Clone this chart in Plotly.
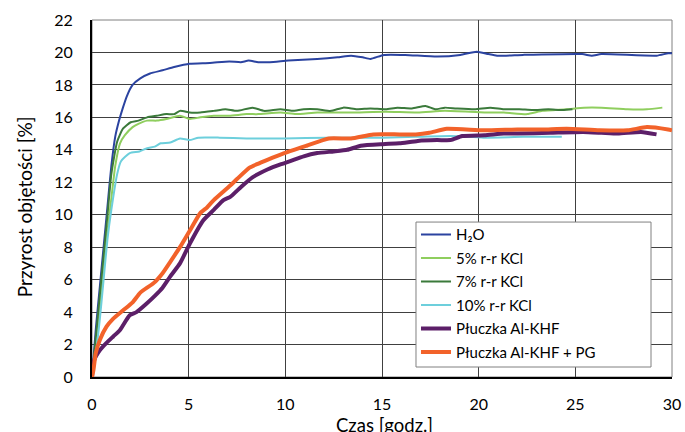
import plotly.graph_objects as go

# H2O
h2o_x = [0, 0.2, 0.4, 0.6, 0.8, 1.0, 1.2, 1.4, 1.6, 1.8, 2.1, 2.5, 3.0, 3.65, 4.25, 5.05, 6.1, 7.1, 7.7, 8.1, 8.6, 9.2, 10.15, 11.65, 12.7, 13.4, 14.0, 14.4, 15.1, 16.2, 17.85, 19.05, 19.9, 20.5, 20.95, 22.3, 25.35, 25.85, 26.35, 29.2, 29.8, 30]
h2o_y = [0, 3, 5.5, 8, 10.5, 13, 14.8, 15.8, 16.6, 17.3, 18, 18.4, 18.7, 18.9, 19.1, 19.3, 19.35, 19.45, 19.4, 19.5, 19.4, 19.4, 19.5, 19.6, 19.7, 19.8, 19.7, 19.6, 19.85, 19.85, 19.75, 19.85, 20.05, 19.9, 19.8, 19.85, 19.9, 19.8, 19.9, 19.8, 19.95, 19.95]

# 5% KCl
k5_x = [0, 0.2, 0.4, 0.6, 0.8, 1.0, 1.2, 1.45, 1.7, 2.1, 2.4, 2.85, 3.35, 3.85, 4.55, 5.05, 5.6, 6.3, 7.1, 8.0, 8.6, 9.75, 10.55, 11.65, 13.4, 15.2, 16.85, 18.25, 20.3, 21.3, 22.5, 23.3, 24.55, 25.45, 26.35, 27.7, 28.7, 29.5]
k5_y = [0, 2, 4, 6.5, 9, 11, 13, 14.4, 14.9, 15.4, 15.6, 15.8, 15.8, 15.9, 16.1, 15.9, 16.0, 16.1, 16.1, 16.2, 16.2, 16.3, 16.2, 16.3, 16.3, 16.35, 16.3, 16.4, 16.3, 16.3, 16.2, 16.4, 16.5, 16.6, 16.6, 16.5, 16.5, 16.6]

# 7% KCl
k7_x = [0, 0.2, 0.4, 0.6, 0.8, 1.0, 1.3, 1.6, 2.0, 2.4, 2.85, 3.35, 3.85, 4.25, 4.55, 5.05, 5.6, 6.3, 6.9, 7.5, 8.3, 8.9, 9.75, 10.35, 10.95, 11.65, 12.35, 13.0, 13.7, 14.4, 15.2, 15.8, 16.55, 17.25, 17.75, 18.25, 18.85, 19.8, 20.6, 21.3, 22.1, 22.8, 23.6, 24.35, 24.85]
k7_y = [0, 2.5, 5, 7.5, 10, 12.5, 14.5, 15.3, 15.7, 15.8, 16.0, 16.1, 16.2, 16.2, 16.4, 16.3, 16.3, 16.4, 16.5, 16.4, 16.6, 16.4, 16.5, 16.4, 16.5, 16.5, 16.4, 16.6, 16.5, 16.55, 16.5, 16.6, 16.55, 16.7, 16.5, 16.6, 16.55, 16.5, 16.6, 16.5, 16.5, 16.45, 16.5, 16.45, 16.5]

# 10% KCl
k10_x = [0, 0.2, 0.4, 0.6, 0.8, 1.0, 1.3, 1.5, 1.95, 2.45, 2.85, 3.25, 3.55, 4.05, 4.55, 5.05, 5.5, 6.6, 8.0, 9.95, 12.15, 15.05, 16.75, 18.55, 20.25, 22.3, 24.3]
k10_y = [0, 1.5, 3.5, 6, 8.5, 10.3, 12.5, 13.3, 13.8, 13.9, 14.1, 14.2, 14.4, 14.45, 14.7, 14.6, 14.75, 14.75, 14.7, 14.7, 14.75, 14.75, 14.8, 14.85, 14.75, 14.8, 14.8]

# Płuczka Al-KHF
khf_x = [0, 0.1, 0.41, 0.75, 1.1, 1.45, 1.95, 2.3, 2.8, 3.25, 3.65, 4.05, 4.55, 5.05, 5.75, 6.3, 6.8, 7.15, 7.7, 8.3, 9.1, 9.75, 10.25, 10.95, 11.65, 12.5, 13.2, 13.9, 15.05, 15.9, 16.85, 17.85, 18.55, 19.15, 20.3, 21.3, 22.0, 23.7, 25.4, 26.35, 27.2, 28.4, 29.2]
khf_y = [0, 1.0, 1.66, 2.1, 2.5, 2.9, 3.8, 4.0, 4.5, 5.0, 5.5, 6.2, 7.0, 8.2, 9.65, 10.3, 10.9, 11.1, 11.7, 12.3, 12.8, 13.1, 13.3, 13.6, 13.8, 13.9, 14.0, 14.25, 14.35, 14.4, 14.55, 14.6, 14.6, 14.85, 14.9, 15.0, 15.0, 15.05, 15.1, 15.05, 15.0, 15.1, 14.95]

# Płuczka Al-KHF + PG
pg_x = [0, 0.07, 0.2, 0.41, 0.75, 1.1, 1.6, 2.1, 2.5, 3.2, 3.65, 4.05, 4.55, 5.05, 5.6, 5.95, 6.3, 7.15, 7.5, 8.15, 8.5, 9.1, 9.85, 11.1, 12.25, 13.4, 14.55, 15.9, 16.75, 17.45, 18.35, 20.25, 22.0, 23.3, 24.55, 26.25, 27.7, 28.7, 29.8, 30]
pg_y = [0, 0.4, 1.5, 2.3, 3.1, 3.6, 4.1, 4.6, 5.2, 5.8, 6.4, 7.1, 8.0, 9.0, 10.1, 10.45, 10.9, 11.8, 12.2, 12.9, 13.1, 13.4, 13.75, 14.25, 14.7, 14.7, 14.95, 14.95, 14.95, 15.05, 15.3, 15.2, 15.25, 15.25, 15.3, 15.2, 15.2, 15.4, 15.25, 15.2]

x_title = "Czas [godz.]"
y_title = "Przyrost objętości [%]"

series = [
    ("H₂O", h2o_x, h2o_y, "#2b43a0", 2),
    ("5% r-r KCl", k5_x, k5_y, "#8fce5e", 2),
    ("7% r-r KCl", k7_x, k7_y, "#3b7a3b", 2),
    ("10% r-r KCl", k10_x, k10_y, "#6dcfdc", 2),
    ("Płuczka Al-KHF", khf_x, khf_y, "#5c1f68", 4),
    ("Płuczka Al-KHF + PG", pg_x, pg_y, "#f2622a", 4),
]

fig = go.Figure()
for name, xs, ys, col, w in series:
    fig.add_trace(go.Scatter(x=xs, y=ys, mode="lines", name=name, legendgroup=name,
                             line=dict(color=col, width=w, shape="spline", smoothing=0.5)))

font = "Lato, Open Sans, sans-serif"
fig.update_layout(
    width=685, height=432,
    margin=dict(l=92, r=13, t=20, b=55, autoexpand=False),
    paper_bgcolor="white", plot_bgcolor="white",
    font=dict(family=font, size=16, color="black"),
    showlegend=True,
    legend=dict(x=0.5586, y=0.445, xanchor="left", yanchor="top",
                bgcolor="rgba(0,0,0,0)", borderwidth=0,
                font=dict(size=15), tracegroupgap=1),
    xaxis=dict(range=[0, 30], dtick=5, tick0=0, showgrid=True, gridcolor="#404040", gridwidth=1,
               showline=True, linecolor="black", linewidth=2, zeroline=False,
               ticks="", automargin=False, ticklabelstandoff=12,
               tickfont=dict(size=16)),
    yaxis=dict(range=[0, 22], dtick=2, tick0=0, showgrid=True, gridcolor="#404040", gridwidth=1,
               showline=True, linecolor="black", linewidth=2, zeroline=False,
               ticks="", automargin=False, ticklabelstandoff=14,
               tickfont=dict(size=16)),
    annotations=[
        dict(text=x_title, xref="paper", yref="paper", x=0.505, y=-0.098,
             xanchor="center", yanchor="top", showarrow=False, font=dict(size=18.5)),
        dict(text=y_title, xref="paper", yref="paper", x=-0.117, y=0.476,
             xanchor="center", yanchor="middle", textangle=-90, showarrow=False,
             font=dict(size=19)),
    ],
)
# plot frame
fig.add_shape(type="rect", xref="paper", yref="paper", x0=0, y0=0, x1=1, y1=1,
              line=dict(color="#808080", width=1), layer="below")
# legend box (wider than plotly's auto-sized legend, as in the original)
fig.add_shape(type="rect", xref="paper", yref="paper", x0=0.5586, y0=0.028, x1=0.9638, y1=0.434,
              line=dict(color="#808080", width=1), fillcolor="white", layer="above")
fig.write_html("out.html", config={"displayModeBar": False},
               post_script="document.body.style.margin='0';document.body.style.overflow='hidden';")
